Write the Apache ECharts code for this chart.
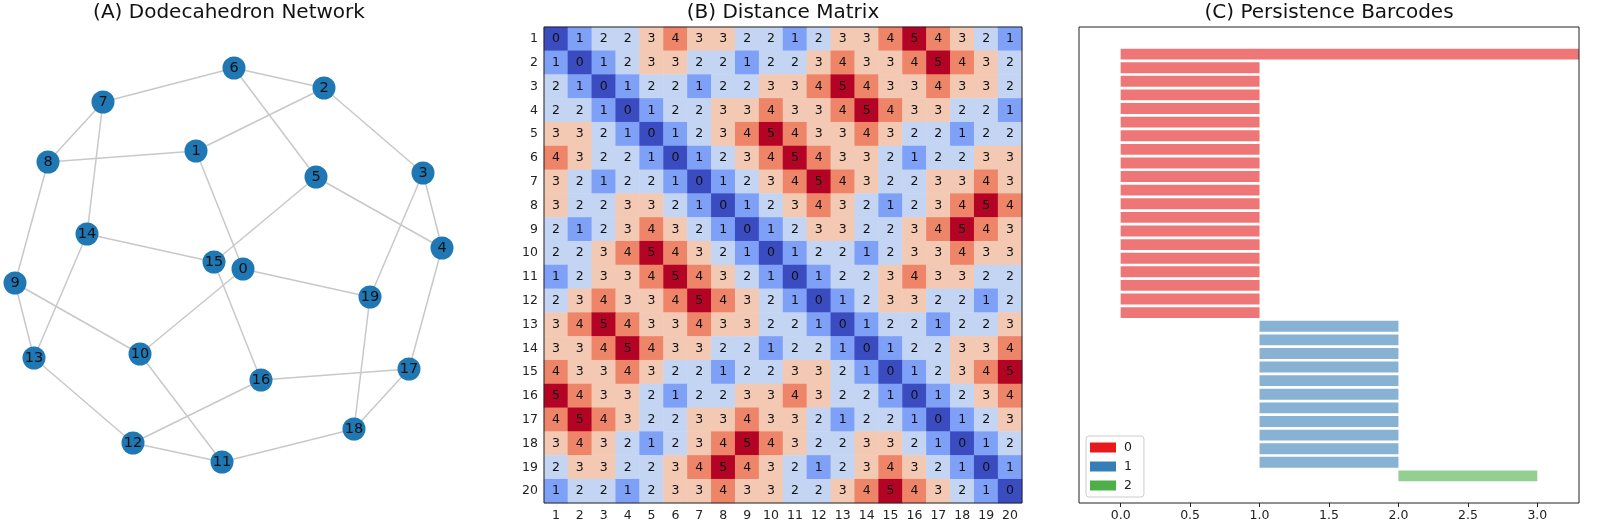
<!DOCTYPE html>
<html>
<head>
<meta charset="utf-8">
<script src="https://cdn.jsdelivr.net/npm/echarts@6/dist/echarts.min.js"></script>
<style>
html, body { margin: 0; padding: 0; background: #fff; }
#chart { width: 1600px; height: 527px; }
</style>
</head>
<body>
<div id="chart"></div>
<script>
// (A) dodecahedron graph, node layout as drawn
var nodeIds = [0, 1, 2, 3, 4, 5, 6, 7, 8, 9, 10, 11, 12, 13, 14, 15, 16, 17, 18, 19];
var nodeX = [243, 196, 324, 423, 442, 316, 234, 103, 48, 15, 140, 222, 133, 34, 87, 214, 261, 409, 354, 370];
var nodeY = [269, 151, 88, 173, 248, 177, 68, 102, 162, 283, 354, 462, 443, 358, 234, 262, 380, 369, 429, 297];
var edges = [
    [6, 7], [6, 2], [6, 5], [2, 1], [2, 3], [7, 8], [7, 14], [8, 1], [8, 9], [1, 0],
    [5, 15], [5, 4], [3, 4], [3, 19], [4, 17], [14, 15], [14, 13], [9, 13], [9, 10], [15, 16],
    [0, 19], [0, 10], [13, 12], [10, 11], [16, 17], [16, 12], [17, 18], [19, 18], [12, 11], [11, 18]
];

// (B) shortest path distances
var matrixLabels = ['1', '2', '3', '4', '5', '6', '7', '8', '9', '10', '11', '12', '13', '14', '15', '16', '17', '18', '19', '20'];
var distances = [
    [0, 1, 2, 2, 3, 4, 3, 3, 2, 2, 1, 2, 3, 3, 4, 5, 4, 3, 2, 1],
    [1, 0, 1, 2, 3, 3, 2, 2, 1, 2, 2, 3, 4, 3, 3, 4, 5, 4, 3, 2],
    [2, 1, 0, 1, 2, 2, 1, 2, 2, 3, 3, 4, 5, 4, 3, 3, 4, 3, 3, 2],
    [2, 2, 1, 0, 1, 2, 2, 3, 3, 4, 3, 3, 4, 5, 4, 3, 3, 2, 2, 1],
    [3, 3, 2, 1, 0, 1, 2, 3, 4, 5, 4, 3, 3, 4, 3, 2, 2, 1, 2, 2],
    [4, 3, 2, 2, 1, 0, 1, 2, 3, 4, 5, 4, 3, 3, 2, 1, 2, 2, 3, 3],
    [3, 2, 1, 2, 2, 1, 0, 1, 2, 3, 4, 5, 4, 3, 2, 2, 3, 3, 4, 3],
    [3, 2, 2, 3, 3, 2, 1, 0, 1, 2, 3, 4, 3, 2, 1, 2, 3, 4, 5, 4],
    [2, 1, 2, 3, 4, 3, 2, 1, 0, 1, 2, 3, 3, 2, 2, 3, 4, 5, 4, 3],
    [2, 2, 3, 4, 5, 4, 3, 2, 1, 0, 1, 2, 2, 1, 2, 3, 3, 4, 3, 3],
    [1, 2, 3, 3, 4, 5, 4, 3, 2, 1, 0, 1, 2, 2, 3, 4, 3, 3, 2, 2],
    [2, 3, 4, 3, 3, 4, 5, 4, 3, 2, 1, 0, 1, 2, 3, 3, 2, 2, 1, 2],
    [3, 4, 5, 4, 3, 3, 4, 3, 3, 2, 2, 1, 0, 1, 2, 2, 1, 2, 2, 3],
    [3, 3, 4, 5, 4, 3, 3, 2, 2, 1, 2, 2, 1, 0, 1, 2, 2, 3, 3, 4],
    [4, 3, 3, 4, 3, 2, 2, 1, 2, 2, 3, 3, 2, 1, 0, 1, 2, 3, 4, 5],
    [5, 4, 3, 3, 2, 1, 2, 2, 3, 3, 4, 3, 2, 2, 1, 0, 1, 2, 3, 4],
    [4, 5, 4, 3, 2, 2, 3, 3, 4, 3, 3, 2, 1, 2, 2, 1, 0, 1, 2, 3],
    [3, 4, 3, 2, 1, 2, 3, 4, 5, 4, 3, 2, 2, 3, 3, 2, 1, 0, 1, 2],
    [2, 3, 3, 2, 2, 3, 4, 5, 4, 3, 2, 1, 2, 3, 4, 3, 2, 1, 0, 1],
    [1, 2, 2, 1, 2, 3, 3, 4, 3, 3, 2, 2, 3, 4, 5, 4, 3, 2, 1, 0]
];
var distanceColors = ['#3b4cc0', '#7ea0f7', '#c4d5f3', '#f3c9b4', '#ee8468', '#b40426'];

// (C) persistence barcodes, [birth, death]
var h0Bars = [
    [0, Infinity],
    [0, 1], [0, 1], [0, 1], [0, 1], [0, 1], [0, 1], [0, 1], [0, 1], [0, 1], [0, 1],
    [0, 1], [0, 1], [0, 1], [0, 1], [0, 1], [0, 1], [0, 1], [0, 1], [0, 1]
];
var h1Bars = [
    [1, 2], [1, 2], [1, 2], [1, 2], [1, 2], [1, 2], [1, 2], [1, 2], [1, 2], [1, 2], [1, 2]
];
var h2Bars = [[2, 3]];
var barTicks = [0, 0.5, 1, 1.5, 2, 2.5, 3];
var dimColors = ['#e41a1c', '#377eb8', '#4daf4a'];

var FONT = 'DejaVu Sans';
var BAR_X_MAX = 3.3;

// heatmap cells
var heatData = [];
distances.forEach(function (row, r) {
    row.forEach(function (v, c) {
        heatData.push([c, r, v]);
    });
});

// barcode rows, top to bottom
var barRow = 0;
function toRows(bars) {
    return bars.map(function (b) {
        var d = b[1] === Infinity ? BAR_X_MAX : b[1];
        return [b[0], d, barRow++];
    });
}
var h0Data = toRows(h0Bars);
var h1Data = toRows(h1Bars);
var h2Data = toRows(h2Bars);

function renderBar(params, api) {
    var start = api.coord([api.value(0), api.value(2)]);
    var end = api.coord([api.value(1), api.value(2)]);
    var h = api.size([0, 0.8])[1];
    return {
        type: 'rect',
        shape: {x: start[0], y: start[1] - h / 2, width: end[0] - start[0], height: h},
        style: {fill: api.visual('color'), opacity: 0.6}
    };
}

function panelTitle(text, x) {
    return {text: text, left: x, top: 3, padding: 0, textAlign: 'center',
        textStyle: {fontFamily: FONT, fontSize: 20, fontWeight: 'normal', color: '#111'}};
}

var chart = echarts.init(document.getElementById('chart'));
var option = {
    animation: false,
    textStyle: {fontFamily: FONT},
    title: [
        panelTitle('(A) Dodecahedron Network', 229),
        panelTitle('(B) Distance Matrix', 783),
        panelTitle('(C) Persistence Barcodes', 1329)
    ],
    grid: [
        {left: 0, top: 0, width: 460, height: 527},
        {left: 544, top: 27, width: 478, height: 476, show: true, z: 10,
            backgroundColor: 'transparent', borderColor: '#222', borderWidth: 1},
        {left: 1079, top: 27, width: 500, height: 476, show: true, z: 10,
            backgroundColor: 'transparent', borderColor: '#222', borderWidth: 1}
    ],
    xAxis: [
        {gridIndex: 0, type: 'value', min: 0, max: 460, show: false},
        {gridIndex: 1, type: 'category', data: matrixLabels,
            axisLine: {show: false, onZero: false},
            axisTick: {alignWithLabel: true, length: 4, lineStyle: {color: '#222'}},
            axisLabel: {color: '#222', fontSize: 12.5, margin: 6, interval: 0},
            splitLine: {show: false}},
        {gridIndex: 2, type: 'value', min: -0.3, max: BAR_X_MAX,
            axisLine: {show: false, onZero: false},
            axisTick: {show: true, customValues: barTicks, length: 4, lineStyle: {color: '#222'}},
            axisLabel: {customValues: barTicks, color: '#222', fontSize: 12.5, margin: 6,
                formatter: function (v) { return v.toFixed(1); }},
            splitLine: {show: false}}
    ],
    yAxis: [
        {gridIndex: 0, type: 'value', min: 0, max: 527, inverse: true, show: false},
        {gridIndex: 1, type: 'category', data: matrixLabels, inverse: true,
            axisLine: {show: false, onZero: false},
            axisTick: {alignWithLabel: true, length: 4, lineStyle: {color: '#222'}},
            axisLabel: {color: '#222', fontSize: 12.5, margin: 6, interval: 0},
            splitLine: {show: false}},
        {gridIndex: 2, type: 'value', min: -1.99, max: 32.99, inverse: true,
            axisLine: {show: false, onZero: false}, axisTick: {show: false}, axisLabel: {show: false},
            splitLine: {show: false}}
    ],
    visualMap: {
        type: 'piecewise', show: false, seriesIndex: 2, dimension: 2,
        pieces: distanceColors.map(function (c, i) { return {value: i, color: c}; })
    },
    legend: {
        data: [
            {name: '0', itemStyle: {color: dimColors[0]}},
            {name: '1', itemStyle: {color: dimColors[1]}},
            {name: '2', itemStyle: {color: dimColors[2]}}
        ],
        orient: 'vertical', left: 1086, top: 436,
        icon: 'rect', itemWidth: 26, itemHeight: 10, itemGap: 6,
        padding: [5, 12, 5, 4],
        borderColor: '#ccc', borderWidth: 1, borderRadius: 3,
        backgroundColor: '#fff',
        selectedMode: false,
        textStyle: {fontFamily: FONT, fontSize: 12.5, color: '#222', padding: [0, 0, 0, 3]}
    },
    series: [
        {
            type: 'lines', coordinateSystem: 'cartesian2d', xAxisIndex: 0, yAxisIndex: 0,
            silent: true, z: 1,
            lineStyle: {color: '#c8c8c8', width: 1.5, opacity: 1},
            data: edges.map(function (e) {
                return {coords: [[nodeX[e[0]], nodeY[e[0]]], [nodeX[e[1]], nodeY[e[1]]]]};
            })
        },
        {
            type: 'scatter', xAxisIndex: 0, yAxisIndex: 0, z: 3,
            symbolSize: 23,
            itemStyle: {color: '#1f77b4', opacity: 1},
            label: {show: true, position: 'inside', color: '#111', fontSize: 14.5, fontFamily: FONT,
                formatter: function (p) { return p.value[2]; }},
            emphasis: {disabled: true},
            data: nodeIds.map(function (i) { return [nodeX[i], nodeY[i], i]; })
        },
        {
            type: 'heatmap', xAxisIndex: 1, yAxisIndex: 1,
            label: {show: true, color: '#111', fontSize: 12.5, fontFamily: FONT},
            emphasis: {disabled: true},
            data: heatData
        },
        {name: '0', type: 'custom', xAxisIndex: 2, yAxisIndex: 2, renderItem: renderBar,
            itemStyle: {color: dimColors[0]}, data: h0Data},
        {name: '1', type: 'custom', xAxisIndex: 2, yAxisIndex: 2, renderItem: renderBar,
            itemStyle: {color: dimColors[1]}, data: h1Data},
        {name: '2', type: 'custom', xAxisIndex: 2, yAxisIndex: 2, renderItem: renderBar,
            itemStyle: {color: dimColors[2]}, data: h2Data}
    ]
};
chart.setOption(option);
</script>
</body>
</html>
